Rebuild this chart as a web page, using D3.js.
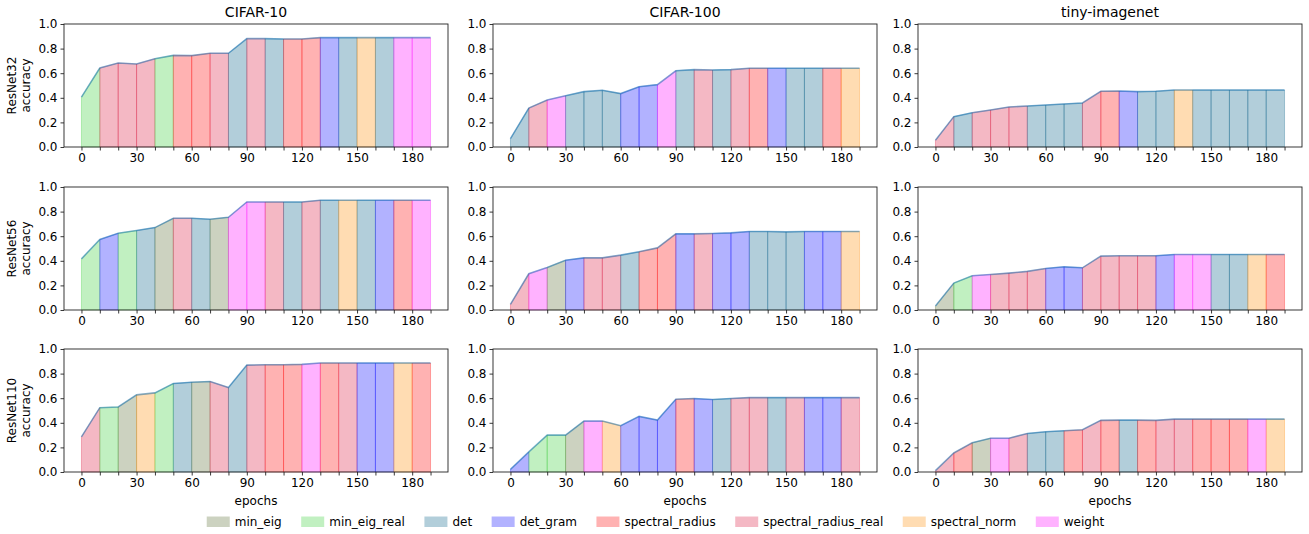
<!DOCTYPE html>
<html><head><meta charset="utf-8">
<script src="https://cdn.jsdelivr.net/npm/d3@7"></script>
<style>body{margin:0;background:#fff;} text{font-family:"DejaVu Sans",sans-serif;fill:#000;}</style>
</head><body><svg id="c" width="1309" height="534"></svg>
<script>
const epochs = [0,10,20,30,40,50,60,70,80,90,100,110,120,130,140,150,160,170,180,190];
const xTickLabels = [0,30,60,90,120,150,180];
const yTickLabels = [0.0,0.2,0.4,0.6,0.8,1.0];
const datasets = ["CIFAR-10","CIFAR-100","tiny-imagenet"];
const models = ["ResNet32","ResNet56","ResNet110"];
const methods = ["min_eig","min_eig_real","det","det_gram","spectral_radius","spectral_radius_real","spectral_norm","weight"];
const methodColors = ["#556b2f","#32cd32","#005c84","#0000ff","#ff0000","#dc143c","#ff8c00","#ff00ff"];
const codes = {me:0, mer:1, d:2, dg:3, sr:4, srr:5, sn:6, w:7};

// accuracy per epoch, row = model, column = dataset
const acc_r32_c10  = [0.406,0.642,0.683,0.675,0.718,0.745,0.743,0.762,0.762,0.881,0.881,0.878,0.878,0.889,0.889,0.889,0.889,0.889,0.889,0.889];
const acc_r32_c100 = [0.068,0.317,0.382,0.417,0.450,0.461,0.434,0.490,0.507,0.620,0.629,0.626,0.629,0.640,0.640,0.640,0.640,0.640,0.640,0.640];
const acc_r32_tin  = [0.054,0.247,0.279,0.301,0.325,0.333,0.341,0.350,0.358,0.453,0.455,0.450,0.453,0.463,0.463,0.463,0.463,0.463,0.463,0.463];
const acc_r56_c10  = [0.416,0.573,0.624,0.646,0.670,0.746,0.746,0.738,0.754,0.878,0.878,0.878,0.878,0.892,0.892,0.892,0.892,0.892,0.892,0.892];
const acc_r56_c100 = [0.046,0.295,0.346,0.405,0.424,0.424,0.446,0.473,0.505,0.619,0.619,0.622,0.627,0.638,0.638,0.635,0.638,0.638,0.638,0.638];
const acc_r56_tin  = [0.032,0.219,0.278,0.289,0.300,0.314,0.338,0.351,0.343,0.438,0.441,0.441,0.441,0.451,0.451,0.451,0.451,0.451,0.451,0.451];
const acc_r110_c10  = [0.286,0.523,0.529,0.627,0.643,0.719,0.730,0.736,0.687,0.869,0.872,0.872,0.875,0.886,0.886,0.886,0.886,0.886,0.886,0.886];
const acc_r110_c100 = [0.022,0.163,0.300,0.300,0.414,0.414,0.376,0.452,0.422,0.591,0.597,0.589,0.597,0.605,0.605,0.605,0.605,0.605,0.605,0.605];
const acc_r110_tin  = [0.011,0.155,0.237,0.275,0.275,0.313,0.327,0.335,0.343,0.420,0.422,0.422,0.420,0.430,0.430,0.430,0.430,0.430,0.430,0.430];

// method chosen for each 10-epoch interval
const seg_r32_c10  = ["mer","srr","srr","srr","mer","sr","sr","srr","d","srr","d","sr","sr","dg","d","sn","d","w","w"];
const seg_r32_c100 = ["d","srr","w","d","d","d","dg","dg","w","d","srr","d","srr","sr","dg","d","d","sr","sn"];
const seg_r32_tin  = ["srr","d","srr","srr","srr","d","d","d","srr","sr","dg","d","d","sn","d","d","d","d","d"];
const seg_r56_c10  = ["mer","dg","mer","d","me","srr","d","me","w","w","srr","d","srr","d","sn","d","dg","sr","w"];
const seg_r56_c100 = ["srr","w","me","dg","srr","srr","d","sr","sr","dg","srr","dg","dg","d","d","d","dg","dg","sn"];
const seg_r56_tin  = ["me","mer","w","srr","srr","srr","dg","dg","srr","srr","srr","srr","dg","w","w","d","d","sn","sr"];
const seg_r110_c10  = ["srr","mer","me","sn","mer","d","me","srr","d","srr","sr","sr","w","sr","srr","dg","dg","sn","sr"];
const seg_r110_c100 = ["dg","mer","mer","me","w","sn","dg","dg","dg","sr","dg","d","srr","srr","d","srr","dg","dg","srr"];
const seg_r110_tin  = ["srr","sr","me","w","srr","d","d","sr","srr","sr","d","sr","srr","srr","sr","sr","sr","w","sn"];

const accGrid = [[acc_r32_c10,acc_r32_c100,acc_r32_tin],[acc_r56_c10,acc_r56_c100,acc_r56_tin],[acc_r110_c10,acc_r110_c100,acc_r110_tin]];
const segGrid = [[seg_r32_c10,seg_r32_c100,seg_r32_tin],[seg_r56_c10,seg_r56_c100,seg_r56_tin],[seg_r110_c10,seg_r110_c100,seg_r110_tin]];

const svg = d3.select("#c");
const colLeft = [64, 493, 918];
const rowTop = [24, 187, 349];
const W = 384, H = 123;
const FS = 12;

const x = d3.scaleLinear().domain([-9.5, 199.5]).range([0, W]);
const y = d3.scaleLinear().domain([0, 1]).range([H, 0]);
const area = d3.area().x(d => x(d[0])).y0(y(0)).y1(d => y(d[1]));
const line = d3.line().x(d => x(d[0])).y(d => y(d[1]));

for (let r = 0; r < 3; r++) {
  for (let c = 0; c < 3; c++) {
    const g = svg.append("g").attr("transform", `translate(${colLeft[c]},${rowTop[r]})`);
    const acc = accGrid[r][c], seg = segGrid[r][c];
    const pts = epochs.map((e, i) => [e, acc[i]]);
    seg.forEach((code, i) => {
      const col = methodColors[codes[code]];
      g.append("path").attr("d", area([pts[i], pts[i+1]]))
        .attr("fill", col).attr("fill-opacity", 0.3)
        .attr("stroke", col).attr("stroke-opacity", 0.3).attr("stroke-width", 1);
    });
    g.append("path").attr("d", line(pts)).attr("fill", "none")
      .attr("stroke", "#1f77b4").attr("stroke-opacity", 0.55).attr("stroke-width", 1.6);

    // axes
    const xa = d3.axisBottom(x).tickValues(epochs).tickSize(3.5).tickPadding(3)
      .tickFormat(d => xTickLabels.includes(d) ? d : "");
    const gx = g.append("g").attr("transform", `translate(0,${H})`).call(xa);
    const ya = d3.axisLeft(y).tickValues(yTickLabels).tickSize(3.5).tickPadding(3)
      .tickFormat(d3.format(".1f"));
    const gy = g.append("g").call(ya);
    [gx, gy].forEach(a => {
      a.select(".domain").remove();
      a.selectAll("line").attr("stroke", "#222").attr("stroke-width", 0.9);
      a.selectAll("text").attr("font-size", FS).attr("font-family", "DejaVu Sans").attr("fill", "#000");
    });
    g.append("rect").attr("width", W).attr("height", H).attr("fill", "none")
      .attr("stroke", "#222").attr("stroke-width", 0.9);

    if (r === 0) {
      g.append("text").attr("x", W/2).attr("y", -7).attr("text-anchor", "middle")
        .attr("font-size", 14).text(datasets[c]);
    }
    if (r === 2) {
      g.append("text").attr("x", W/2).attr("y", H + 33).attr("text-anchor", "middle")
        .attr("font-size", FS).text("epochs");
    }
    if (c === 0) {
      const cy = H/2;
      g.append("text").attr("transform", `translate(${-48},${cy}) rotate(-90)`)
        .attr("text-anchor", "middle").attr("font-size", FS).text(models[r]);
      g.append("text").attr("transform", `translate(${-34},${cy}) rotate(-90)`)
        .attr("text-anchor", "middle").attr("font-size", FS).text("accuracy");
    }
  }
}

// legend
const lg = svg.append("g");
let cx = 0;
methods.forEach((m, i) => {
  const it = lg.append("g").attr("transform", `translate(${cx},0)`);
  it.append("rect").attr("x", 0).attr("y", -9.5).attr("width", 23).attr("height", 10.5)
    .attr("fill", methodColors[i]).attr("fill-opacity", 0.3);
  const t = it.append("text").attr("x", 28).attr("y", 0).attr("font-size", FS).text(m);
  const w = t.node().getComputedTextLength();
  cx += 28 + w + 19.5;
});
const total = cx - 19.5;
lg.attr("transform", `translate(${(1309 - total)/2 + 1},${526})`);
</script></body></html>
